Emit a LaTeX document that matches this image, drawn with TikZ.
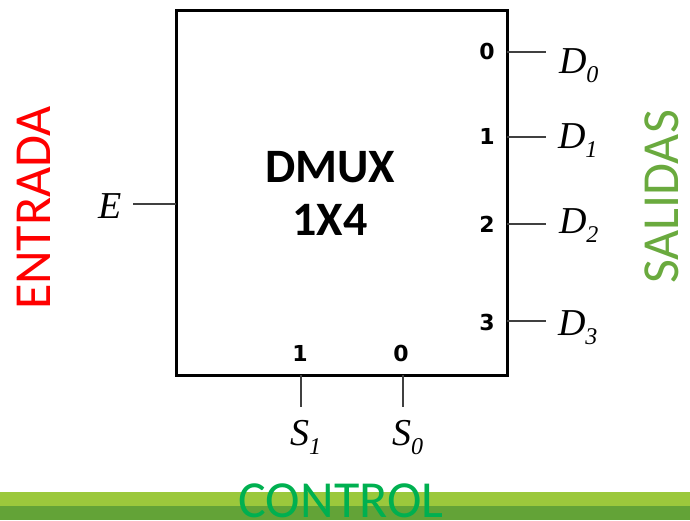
\documentclass[tikz,border=0pt]{standalone}
\usepackage{fontspec}
\setmainfont{Carlito}
\newfontfamily\tmsfont{Liberation Serif}
\newfontfamily\pinfont{DejaVu Sans}
\definecolor{entradared}{HTML}{FF0000}
\definecolor{salidasgreen}{HTML}{6AAA3E}
\definecolor{controlgreen}{HTML}{00B050}
\definecolor{barlight}{HTML}{9BC83C}
\definecolor{bardark}{HTML}{63A337}
\newcommand{\signame}[2]{{\tmsfont\itshape #1\raisebox{-9pt}{\fontsize{24}{24}\selectfont #2}}}

\begin{document}
\begin{tikzpicture}[
    x=1pt, y=-1pt,
    every node/.style={
        inner sep=0pt,
        outer sep=0pt
    },
    block/.style={draw, line width=3pt, minimum width=331pt, minimum height=365pt},
    pin/.style={line width=1.5pt, draw=black!75},
    pinnum/.style={font=\pinfont\bfseries\fontsize{22}{22}\selectfont},
    signal/.style={anchor=base west, font=\fontsize{38}{38}\selectfont},
    side/.style={font=\fontsize{52}{52}\selectfont, rotate=90}
]

\useasboundingbox (0,0) rectangle (690,520);

% Bottom bar
\fill[barlight] (0,492) rectangle (690,506);
\fill[bardark] (0,506) rectangle (690,520);

% Block
\node[block] (dmux) at (341.5,192.5) {};
\node[align=center, font=\bfseries\fontsize{48}{53}\selectfont] (title) at (330,193) {DMUX\\1X4};

% Input
\node[signal, anchor=base] (e) at (110,218) {\signame{E}{}};
\coordinate (ein) at (133,204);
\draw[pin] (ein) -- (ein -| dmux.west);

% Outputs
\coordinate (d0) at (546,52);
\coordinate (d1) at (546,137);
\coordinate (d2) at (546,224);
\coordinate (d3) at (546,321);
\draw[pin] (dmux.east |- d0) -- (d0);
\draw[pin] (dmux.east |- d1) -- (d1);
\draw[pin] (dmux.east |- d2) -- (d2);
\draw[pin] (dmux.east |- d3) -- (d3);

\node[pinnum] (n0) at (487,51) {0};
\node[pinnum] (n1) at (487,136) {1};
\node[pinnum] (n2) at (487,224) {2};
\node[pinnum] (n3) at (487,322) {3};

\node[signal] (dout0) at (559,73) {\signame{D}{0}};
\node[signal] (dout1) at (558,148) {\signame{D}{1}};
\node[signal] (dout2) at (559,233) {\signame{D}{2}};
\node[signal] (dout3) at (558,335) {\signame{D}{3}};

% Selects
\coordinate (s1) at (301,407);
\coordinate (s0) at (403,407);
\draw[pin] (dmux.south -| s1) -- (s1);
\draw[pin] (dmux.south -| s0) -- (s0);

\node[pinnum] (m1) at (300,353) {1};
\node[pinnum] (m0) at (401,353) {0};

\node[signal] (sel1) at (290,445) {\signame{S}{1}};
\node[signal] (sel0) at (392,445) {\signame{S}{0}};

% Side labels
\node[side, text=entradared] (entrada) at (34,208) {ENTRADA};
\node[side, text=salidasgreen] (salidas) at (662,197) {SALIDAS};
\node[font=\fontsize{52}{52}\selectfont, text=controlgreen, anchor=base] (control) at (341,517) {CONTROL};

\end{tikzpicture}
\end{document}
